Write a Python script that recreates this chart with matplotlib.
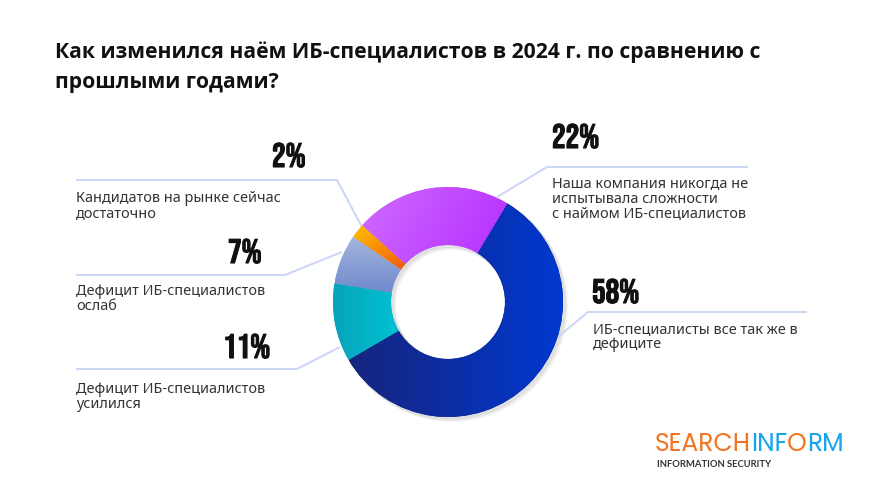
import numpy as np
import matplotlib
matplotlib.use("Agg")
import matplotlib.pyplot as plt
import matplotlib.patheffects as pe
from matplotlib.colors import LinearSegmentedColormap

# data
shares = [58, 11, 7, 2, 22]
pct_labels = ["58%", "11%", "7%", "2%", "22%"]
answers = [
    "ИБ-специалисты все так же в\nдефиците",
    "Дефицит ИБ-специалистов\nусилился",
    "Дефицит ИБ-специалистов\nослаб",
    "Кандидатов на рынке сейчас\nдостаточно",
    "Наша компания никогда не\nиспытывала сложности\nс наймом ИБ-специалистов",
]
# gradient colours per slice (start, end, direction in degrees)
grads = [
    ("#17257e", "#0038d0", 0),
    ("#08a3bb", "#00c2d2", 0),
    ("#a3b5de", "#7089cc", -90),
    ("#ffc000", "#f05a14", -60),
    ("#cf6cff", "#b52cff", -30),
]

W, H = 888, 498
def Y(y):
    return H - y

fig = plt.figure(figsize=(W / 100, H / 100), dpi=100)
ax = fig.add_axes([0, 0, 1, 1])

cx, cy, R, ring = 448, Y(302), 115, 58

# soft shadow
for k, a in [(4, 0.05), (3, 0.06), (2, 0.08)]:
    ax.pie([1], radius=R + 1, center=(cx + k, cy - k), colors=["#555555"],
           wedgeprops=dict(width=ring + 2, alpha=a, linewidth=0), frame=True)

wedges, _ = ax.pie(shares, radius=R, center=(cx, cy), startangle=59,
                   counterclock=False, colors=[g[0] for g in grads],
                   wedgeprops=dict(width=ring, linewidth=0), frame=True)

for w, (c0, c1, ang) in zip(wedges, grads):
    ext = w.get_path().get_extents()
    xs = np.linspace(ext.x0, ext.x1, 120)
    ys = np.linspace(ext.y0, ext.y1, 120)
    gx, gy = np.meshgrid(xs, ys)
    d = np.deg2rad(ang)
    t = gx * np.cos(d) + gy * np.sin(d)
    t = (t - t.min()) / (t.max() - t.min() + 1e-9)
    cmap = LinearSegmentedColormap.from_list("g", [c0, c1])
    im = ax.imshow(t, cmap=cmap, extent=[ext.x0, ext.x1, ext.y0, ext.y1],
                   origin="lower", interpolation="bilinear", zorder=3)
    im.set_clip_path(w)

ax.set_xlim(0, W)
ax.set_ylim(0, H)
ax.set_aspect("equal")
ax.axis("off")

# title
tfont = dict(family=["Open Sans", "DejaVu Sans"], fontweight="bold", fontsize=15.2, color="#111111")
ax.text(55, Y(52), "Как изменился наём ИБ-специалистов в 2024 г. по сравнению с",
        va="center", ha="left", **tfont)
ax.text(55, Y(82), "прошлыми годами?", va="center", ha="left", **tfont)

# leader lines, percent and answer text
line_c = "#cbd6f6"
leaders = [
    [(558, 337), (588, 312), (807, 312)],
    [(340, 347), (297, 369), (76, 369)],
    [(342, 252), (285, 275), (76, 275)],
    [(362, 227), (337, 180), (76, 180)],
    [(497, 197), (547, 167), (748, 167)],
]
pct_pos = [(592, 303), (223, 358), (228, 263), (272, 167), (552, 148)]
ans_pos = [(593, 337), (76, 397), (76, 299), (76, 206), (552, 199)]

pfont = dict(family=["Bebas Neue", "Oswald", "Anton", "DejaVu Sans"],
             fontsize=24.5, color="#111111",
             path_effects=[pe.withStroke(linewidth=0.8, foreground="#111111")])
afont = dict(family=["Noto Sans", "DejaVu Sans"], fontsize=10.4, color="#333333")

for pts, pp, ap, p, a in zip(leaders, pct_pos, ans_pos, pct_labels, answers):
    ax.plot([q[0] for q in pts], [Y(q[1]) for q in pts], color=line_c, lw=1.4,
            solid_capstyle="butt", zorder=1)
    ax.text(pp[0], Y(pp[1]), p, ha="left", va="baseline", **pfont)
    ax.text(ap[0], Y(ap[1]), a, ha="left", va="center", linespacing=1.0, **afont)

# logo
lfont = dict(family=["Poppins", "Lato", "DejaVu Sans"], fontsize=18, fontweight=400)
t1 = ax.text(655, Y(451), "SEARCH", ha="left", va="baseline", color="#f47321", **lfont)
t2 = ax.annotate("INF", xy=(1, 0), xycoords=t1, ha="left", va="bottom", color="#14a5ec", **lfont)
t3 = ax.annotate("O", xy=(1, 0), xycoords=t2, ha="left", va="bottom", color="#f47321", **lfont)
ax.annotate("RM", xy=(1, 0), xycoords=t3, ha="left", va="bottom", color="#14a5ec", **lfont)
ax.text(657, Y(464), "INFORMATION SECURITY", ha="left", va="center", color="#333333",
        family=["Lato", "DejaVu Sans"], fontsize=6.8, fontweight="bold")

fig.savefig("out.png", dpi=100, facecolor="white")
